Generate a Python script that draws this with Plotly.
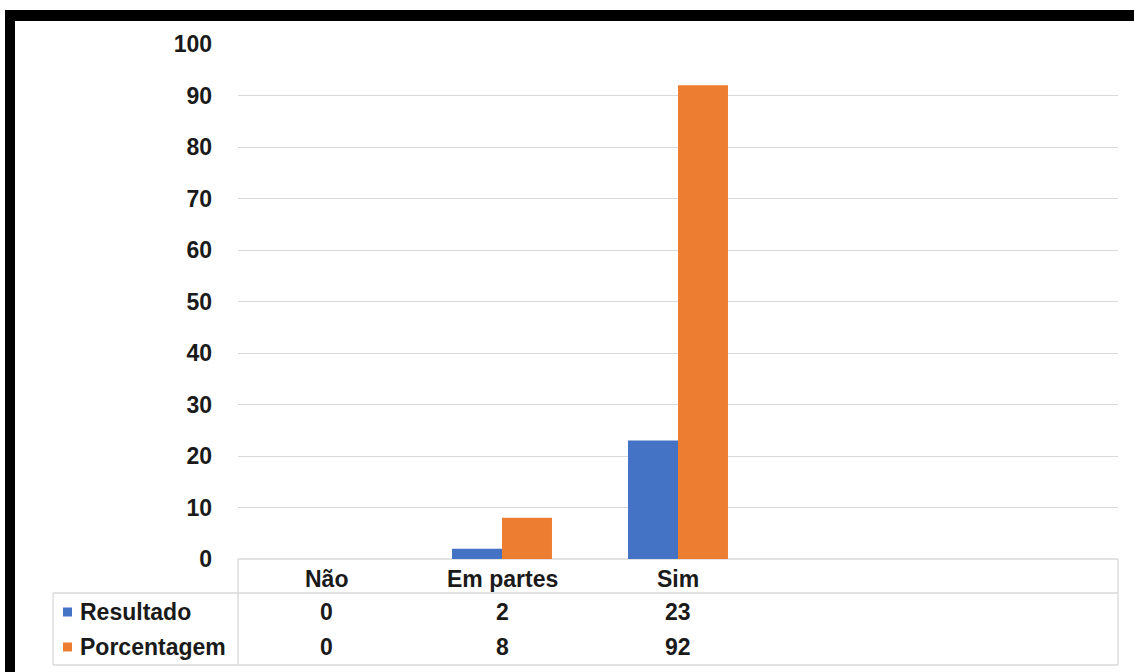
import plotly.graph_objects as go

# Survey answers and the two series shown in the chart and its data table
categories = ["Não", "Em partes", "Sim"]
resultado = [0, 2, 23]
porcentagem = [0, 8, 92]
series_names = ["Resultado", "Porcentagem"]
y_ticks = [0, 10, 20, 30, 40, 50, 60, 70, 80, 90, 100]

BLUE = "#4472C4"
ORANGE = "#ED7D31"
GRID = "#d9d9d9"
TEXT = "#1a1a1a"
FONT = "Liberation Sans, Arial, sans-serif"
FS = 23

W, H = 1134, 672
PL, PR = 238, 1118      # plot area left / right (px)
PT, PB = 44, 559        # plot area top / bottom (px)
N_SLOTS = 5             # category slots along the axis (last two empty)


def fx(px):
    return (px - PL) / (PR - PL)


def fy(py):
    return (PB - py) / (PB - PT)


fig = go.Figure()
x_pos = list(range(len(categories)))
fig.add_trace(go.Bar(x=x_pos, y=resultado, name=series_names[0],
                     marker=dict(color=BLUE, line=dict(width=0))))
fig.add_trace(go.Bar(x=x_pos, y=porcentagem, name=series_names[1],
                     marker=dict(color=ORANGE, line=dict(width=0))))

shapes = []
annotations = []


def hline(x0, x1, y, color=GRID, width=1.3):
    shapes.append(dict(type="line", xref="paper", yref="paper",
                       x0=fx(x0), x1=fx(x1), y0=fy(y), y1=fy(y),
                       line=dict(color=color, width=width), layer="below"))


def vline(x, y0, y1, color=GRID, width=1.3):
    shapes.append(dict(type="line", xref="paper", yref="paper",
                       x0=fx(x), x1=fx(x), y0=fy(y0), y1=fy(y1),
                       line=dict(color=color, width=width), layer="below"))


# Data table grid below the plot
hline(PL, PR, PB)
hline(53, PR, 593)
hline(53, PR, 665)
vline(53, 593, 665)
vline(PL, PB, 665)
vline(PR, PB, 665)

slot_w = (PR - PL) / N_SLOTS
row_y = {"header": 579, series_names[0]: 612, series_names[1]: 647}

# Category header row
for i, c in enumerate(categories):
    cx = PL + slot_w * (i + 0.5)
    annotations.append(dict(x=fx(cx), y=fy(row_y["header"]), xref="paper", yref="paper",
                            text=c, showarrow=False, xanchor="center", yanchor="middle",
                            font=dict(family=FONT, size=FS, color=TEXT)))

# Series rows with legend keys
for name, vals, col in [(series_names[0], resultado, BLUE),
                        (series_names[1], porcentagem, ORANGE)]:
    ry = row_y[name]
    shapes.append(dict(type="rect", xref="paper", yref="paper",
                       x0=fx(63), x1=fx(72), y0=fy(ry - 4.5), y1=fy(ry + 4.5),
                       fillcolor=col, line=dict(width=0)))
    annotations.append(dict(x=fx(78), y=fy(ry), xref="paper", yref="paper",
                            text=name, showarrow=False, xanchor="left", yanchor="middle",
                            font=dict(family=FONT, size=FS, color=TEXT)))
    for i, v in enumerate(vals):
        cx = PL + slot_w * (i + 0.5)
        annotations.append(dict(x=fx(cx), y=fy(ry), xref="paper", yref="paper",
                                text=str(v), showarrow=False, xanchor="center",
                                yanchor="middle",
                                font=dict(family=FONT, size=FS, color=TEXT)))

# Thick black frame along the top and left edges
shapes.append(dict(type="rect", xref="paper", yref="paper",
                   x0=fx(5), x1=fx(W + 5), y0=fy(10), y1=fy(21),
                   fillcolor="black", line=dict(width=0), layer="above"))
shapes.append(dict(type="rect", xref="paper", yref="paper",
                   x0=fx(5), x1=fx(15), y0=fy(10), y1=fy(H + 5),
                   fillcolor="black", line=dict(width=0), layer="above"))

fig.update_layout(
    width=W, height=H,
    margin=dict(l=PL, r=W - PR, t=PT, b=H - PB, pad=0),
    paper_bgcolor="white", plot_bgcolor="white",
    barmode="group", bargap=0.432, bargroupgap=0,
    showlegend=False,
    xaxis=dict(range=[-0.5, N_SLOTS - 0.5], showticklabels=False, showgrid=False,
               zeroline=False, showline=False, ticks="", fixedrange=True),
    yaxis=dict(range=[0, 100], tickvals=y_ticks, showgrid=True, gridcolor=GRID,
               gridwidth=1.3, zeroline=False, showline=False, ticks="",
               ticklabelstandoff=25,
               tickfont=dict(family=FONT, size=FS, color=TEXT, weight="bold"),
               fixedrange=True),
    font=dict(family=FONT, size=FS, color=TEXT, weight="bold"),
    shapes=shapes,
    annotations=annotations,
)

for a in fig.layout.annotations:
    a.font.weight = "bold"

fig.write_html("out.html")
